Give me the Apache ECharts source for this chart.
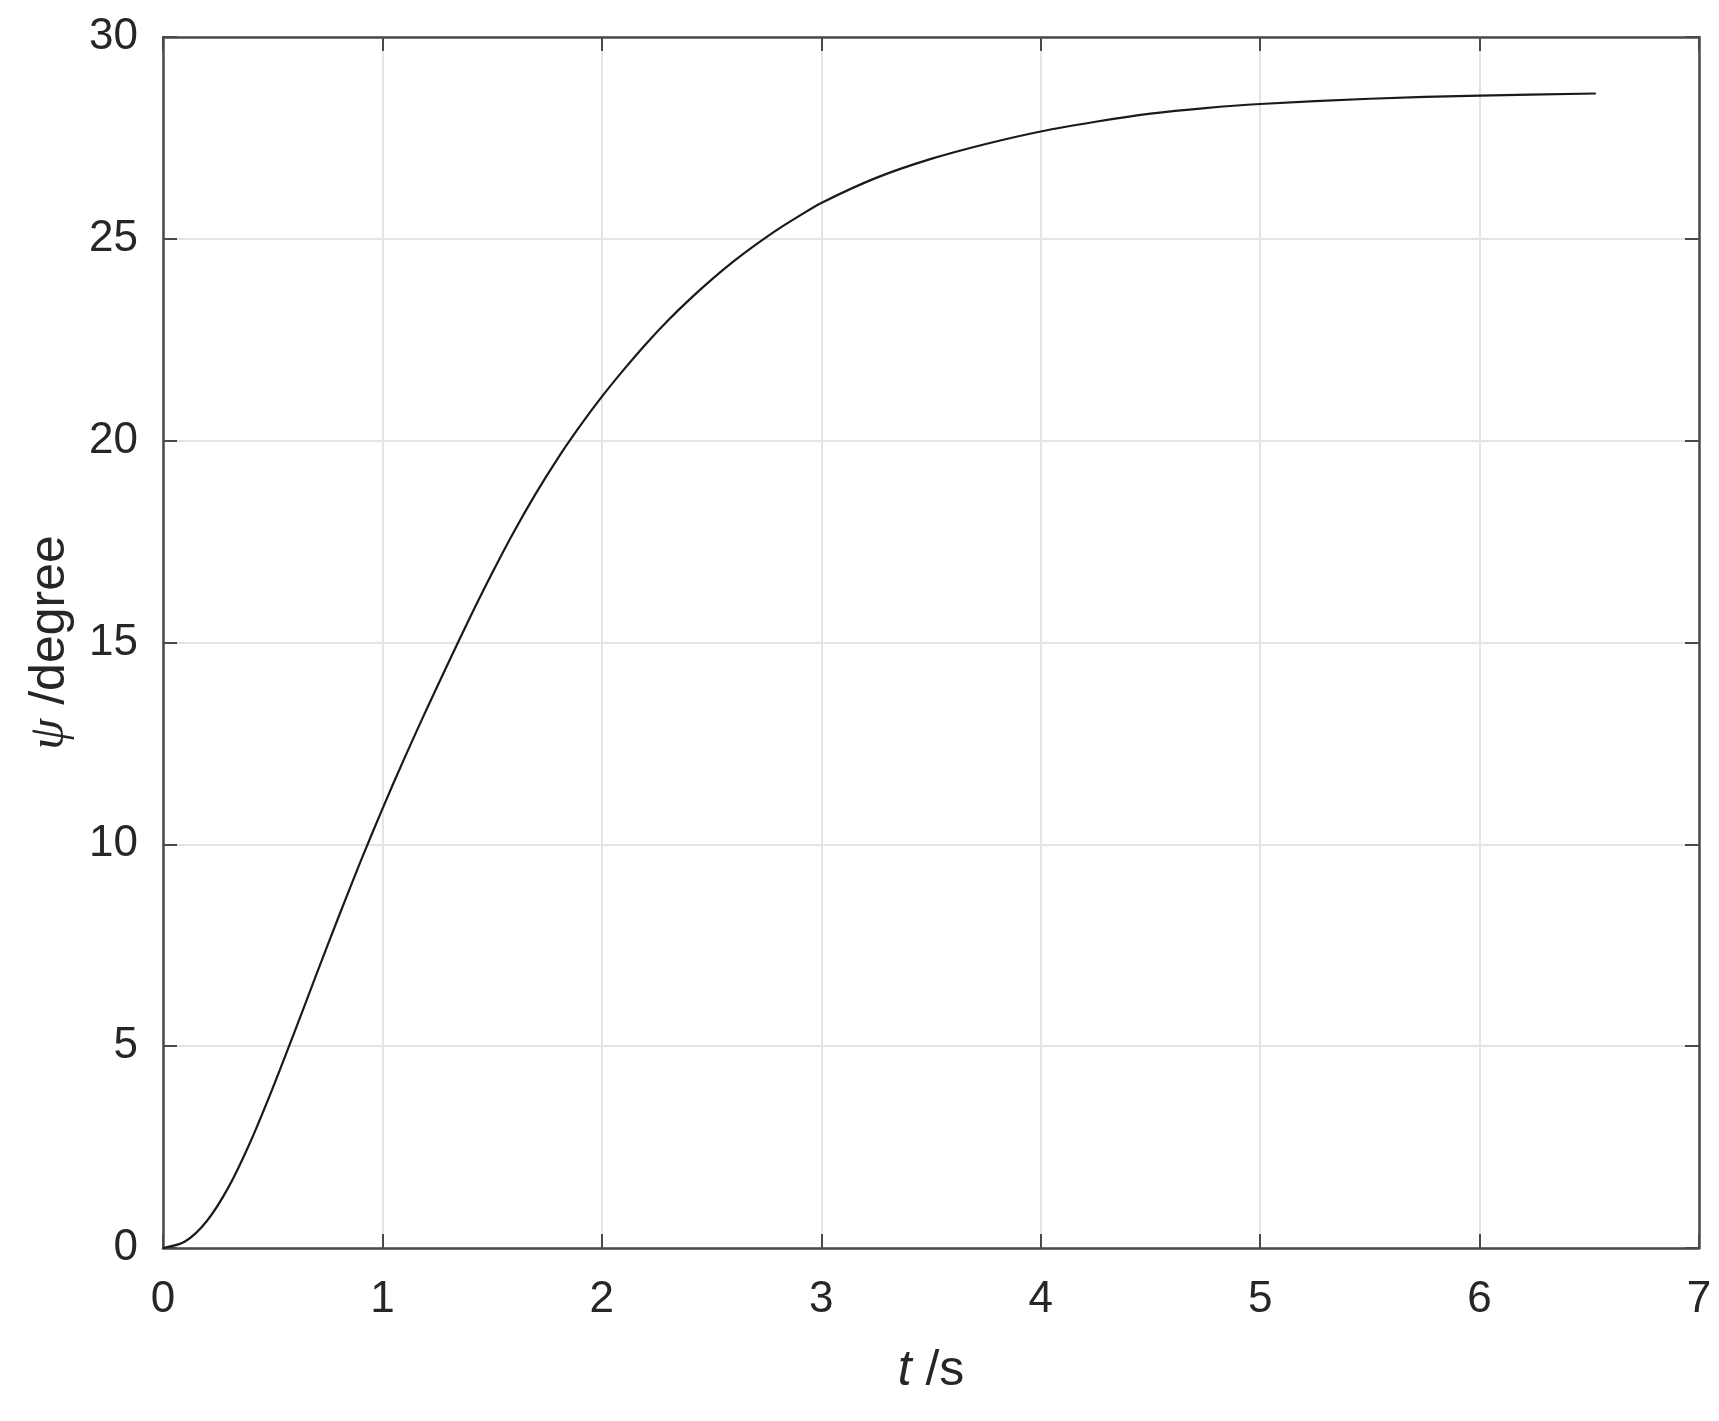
<!DOCTYPE html>
<html>
<head>
<meta charset="utf-8">
<script src="https://cdn.jsdelivr.net/npm/echarts@6/dist/echarts.min.js"></script>
<style>
  html, body { margin: 0; padding: 0; background: #ffffff; }
  #chart { width: 1719px; height: 1421px; }
</style>
</head>
<body>
<div id="chart"></div>
<script>
// Time samples (s)
const timeValues = [0, 0.1, 0.2, 0.3, 0.4, 0.5, 0.6, 0.7, 0.8, 0.9, 1.0,
  1.1, 1.2, 1.3, 1.4, 1.5, 1.6, 1.7, 1.8, 1.9, 2.0,
  2.1, 2.2, 2.3, 2.4, 2.5, 2.6, 2.7, 2.8, 2.9, 3.0,
  3.25, 3.5, 3.75, 4.0, 4.25, 4.5, 4.75, 5.0, 5.5, 6.0, 6.53];
// Yaw angle psi (degree)
const psiValues = [0, 0.16, 0.67, 1.52, 2.65, 3.96, 5.36, 6.79, 8.20, 9.57, 10.88,
  12.13, 13.33, 14.49, 15.63, 16.72, 17.75, 18.70, 19.57, 20.36, 21.09,
  21.76, 22.39, 22.97, 23.50, 23.99, 24.44, 24.85, 25.23, 25.57, 25.89,
  26.51, 26.98, 27.35, 27.66, 27.90, 28.10, 28.24, 28.34, 28.47, 28.55, 28.60];
const xTicks = { min: 0, max: 7, step: 1 };
const yTicks = { min: 0, max: 30, step: 5 };
const xName = '{i|t} /s';
const yName = '{g|ψ} /degree';

const seriesData = timeValues.map((t, i) => [t, psiValues[i]]);

const axisColor = '#4a4a4a';
const textColor = '#262626';
const font = '"Liberation Sans", Arial, Helvetica, sans-serif';

const chart = echarts.init(document.getElementById('chart'), null, { renderer: 'canvas' });

const tickStyle = { show: true, inside: true, length: 14, lineStyle: { color: axisColor, width: 2 } };
const lineStyleAxis = { show: true, onZero: false, lineStyle: { color: axisColor, width: 2.5 } };

chart.setOption({
  animation: false,
  backgroundColor: '#ffffff',
  grid: { left: 163, right: 20, top: 37, bottom: 173, containLabel: false },
  xAxis: [
    {
      type: 'value', position: 'bottom',
      min: xTicks.min, max: xTicks.max, interval: xTicks.step,
      axisLine: lineStyleAxis,
      axisTick: tickStyle,
      axisLabel: { color: textColor, fontSize: 44, fontFamily: font, margin: 30 },
      splitLine: { show: true, lineStyle: { color: '#e4e4e4', width: 2 } },
      name: xName, nameLocation: 'middle', nameGap: 98,
      nameTextStyle: {
        color: textColor, fontSize: 50, fontFamily: font,
        rich: { i: { fontStyle: 'italic', fontSize: 50, fontFamily: font, color: textColor } }
      }
    },
    {
      type: 'value', position: 'top',
      min: xTicks.min, max: xTicks.max, interval: xTicks.step,
      axisLine: lineStyleAxis,
      axisTick: tickStyle,
      axisLabel: { show: false },
      splitLine: { show: false }
    }
  ],
  yAxis: [
    {
      type: 'value', position: 'left',
      min: yTicks.min, max: yTicks.max, interval: yTicks.step,
      axisLine: lineStyleAxis,
      axisTick: tickStyle,
      axisLabel: { color: textColor, fontSize: 44, fontFamily: font, margin: 25 },
      splitLine: { show: true, lineStyle: { color: '#e4e4e4', width: 2 } },
      name: yName, nameLocation: 'middle', nameGap: 88, nameRotate: 90,
      nameTextStyle: {
        color: textColor, fontSize: 50, fontFamily: font,
        rich: { g: { fontStyle: 'italic', fontSize: 50, fontFamily: '"Liberation Serif", "DejaVu Serif", serif', color: textColor } }
      }
    },
    {
      type: 'value', position: 'right',
      min: yTicks.min, max: yTicks.max, interval: yTicks.step,
      axisLine: lineStyleAxis,
      axisTick: tickStyle,
      axisLabel: { show: false },
      splitLine: { show: false }
    }
  ],
  series: [
    {
      type: 'line',
      xAxisIndex: 0, yAxisIndex: 0,
      data: seriesData,
      smooth: 0.3,
      showSymbol: false,
      symbol: 'none',
      lineStyle: { color: '#1a1a1a', width: 2.2 },
      z: 5
    }
  ]
});
</script>
</body>
</html>
